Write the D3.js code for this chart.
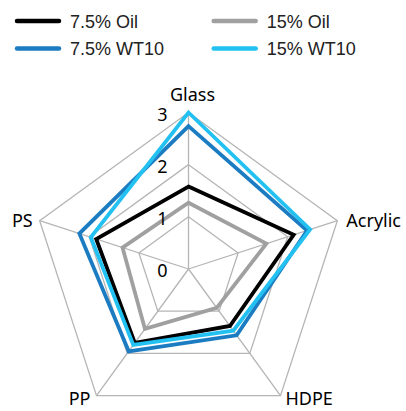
<!DOCTYPE html>
<html>
<head>
<meta charset="utf-8">
<script src="https://cdn.jsdelivr.net/npm/d3@7"></script>
<style>
  body { margin: 0; background: #fff; }
</style>
</head>
<body>
<div id="radar"></div>
<script>
// data
const axes = ["Glass", "Acrylic", "HDPE", "PP", "PS"]
const ticks = [0, 1, 2, 3]
const seriesNames = ["7.5% Oil", "15% Oil", "7.5% WT10", "15% WT10"]
const oil75 = [1.58, 2.12, 1.35, 1.75, 1.86]
const oil15 = [1.27, 1.57, 0.92, 1.42, 1.33]
const wt75 = [2.74, 2.39, 1.57, 1.95, 2.2]
const wt15 = [3.0, 2.45, 1.46, 1.8, 1.97]

function drawRadar(){

    const series = [
        {name: seriesNames[0], values: oil75, color: "#000000"},
        {name: seriesNames[1], values: oil15, color: "#a0a0a0"},
        {name: seriesNames[2], values: wt75, color: "#1b7cc2"},
        {name: seriesNames[3], values: wt15, color: "#22c1f1"},
    ]

    // chart dimensions
    let dimensions = {
        width: 406,
        height: 411,
        cx: 188.5,
        cy: 269,
        radius: 156.5,
    }

    const wrapper = d3.select("#radar")
      .append("svg")
        .attr("width", dimensions.width)
        .attr("height", dimensions.height)

    const bounds = wrapper.append("g")
        .attr("transform", `translate(${dimensions.cx},${dimensions.cy})`)

    // scales
    const rScale = d3.scaleLinear()
        .domain([0, 3])
        .range([0, dimensions.radius])

    const angleScale = d3.scalePoint()
        .domain(axes)
        .range([0, 2 * Math.PI * (axes.length - 1) / axes.length])

    const point = (axis, v) => {
        const a = angleScale(axis)
        return [Math.sin(a) * rScale(v), -Math.cos(a) * rScale(v)]
    }

    // grid
    const grid = bounds.append("g")
    grid.selectAll("polygon")
        .data(ticks.filter(t => t > 0))
        .join("polygon")
          .attr("points", t => axes.map(a => point(a, t).join(",")).join(" "))
          .attr("fill", "none")
          .attr("stroke", "#b5b5b5")
          .attr("stroke-width", 1.3)

    grid.selectAll("line")
        .data(axes)
        .join("line")
          .attr("x1", 0)
          .attr("y1", 0)
          .attr("x2", a => point(a, 3)[0])
          .attr("y2", a => point(a, 3)[1])
          .attr("stroke", "#b5b5b5")
          .attr("stroke-width", 1.3)

    // series
    const lineGenerator = d3.lineRadial()
        .angle((d, i) => angleScale(axes[i]))
        .radius(d => rScale(d))
        .curve(d3.curveLinearClosed)

    bounds.selectAll(".series")
        .data(series)
        .join("path")
          .attr("class", "series")
          .attr("d", s => lineGenerator(s.values))
          .attr("fill", "none")
          .attr("stroke", s => s.color)
          .attr("stroke-width", 3.8)
          .attr("stroke-linejoin", "miter")

    // tick labels
    bounds.selectAll(".tick")
        .data(ticks)
        .join("text")
          .attr("class", "tick")
          .attr("x", -21)
          .attr("y", t => -rScale(t) + 8)
          .attr("text-anchor", "end")
          .style("font-family", "'Noto Sans', sans-serif")
          .style("font-size", "18px")
          .text(t => t)

    // axis labels
    const labelPos = {
        Glass:   {anchor: "middle", dx: 4, dy: -12},
        Acrylic: {anchor: "start", dx: 9, dy: 6},
        HDPE:    {anchor: "start", dx: 5, dy: 9},
        PP:      {anchor: "end", dx: -6, dy: 9},
        PS:      {anchor: "end", dx: -7, dy: 6},
    }

    bounds.selectAll(".axis-label")
        .data(axes)
        .join("text")
          .attr("class", "axis-label")
          .attr("x", a => point(a, 3)[0] + labelPos[a].dx)
          .attr("y", a => point(a, 3)[1] + labelPos[a].dy)
          .attr("text-anchor", a => labelPos[a].anchor)
          .style("font-family", "'Noto Sans', sans-serif")
          .style("font-size", "18px")
          .text(a => a)

    // legend
    const legend = wrapper.append("g")
    const legendItems = legend.selectAll("g")
        .data(series)
        .join("g")
          .attr("transform", (s, i) => `translate(${17 + (i % 2) * 196.7},${21 + Math.floor(i / 2) * 27.5})`)

    legendItems.append("line")
        .attr("x1", 0)
        .attr("x2", 42)
        .attr("stroke", s => s.color)
        .attr("stroke-width", 4.5)
        .attr("stroke-linecap", "round")

    legendItems.append("text")
        .attr("x", 53)
        .attr("y", 6.5)
        .style("font-family", "'Liberation Sans', Arial, sans-serif")
        .style("font-size", "18px")
        .style("fill", "#222")
        .text(s => s.name)
}

drawRadar()
</script>
</body>
</html>
